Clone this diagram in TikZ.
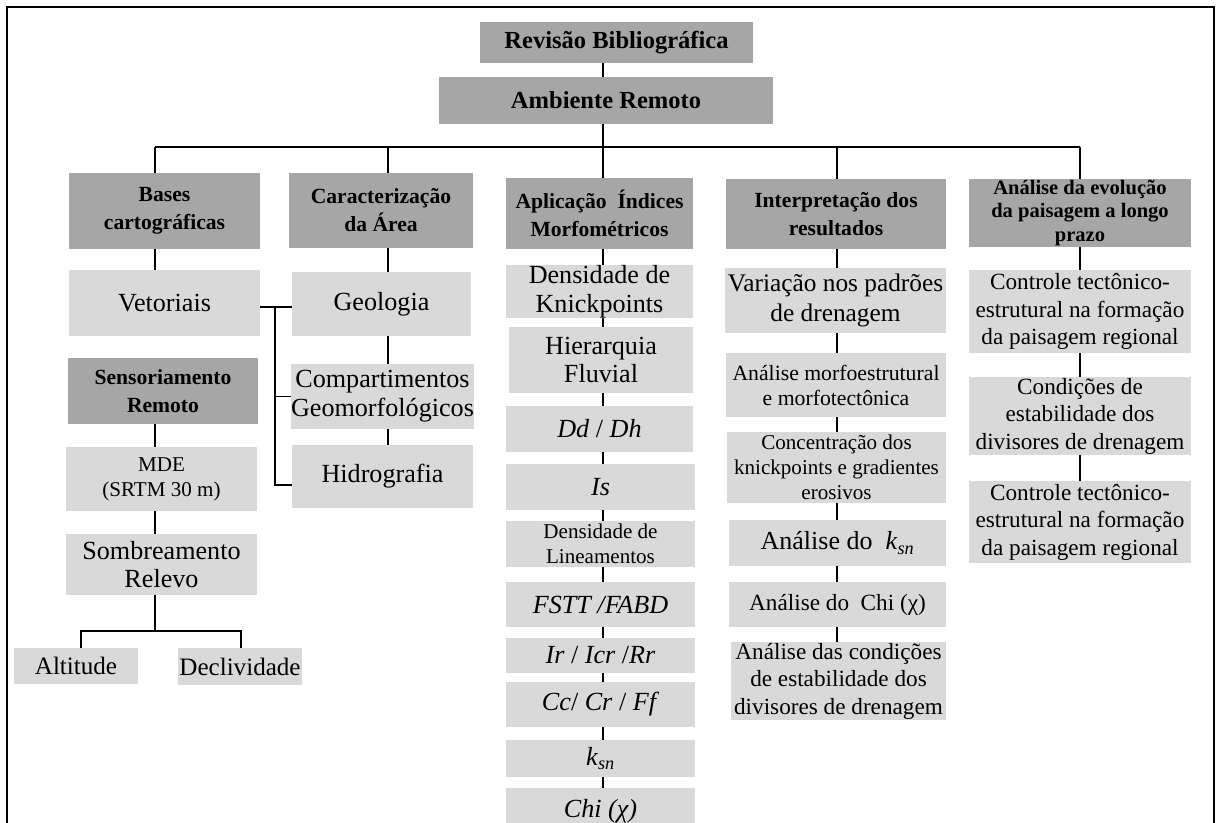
\documentclass[tikz,border=0pt]{standalone}
\usepackage{fontspec}
\setmainfont{Liberation Serif}
\definecolor{dk}{RGB}{166,166,166}
\definecolor{lt}{RGB}{217,217,217}
\newcommand\fTop{\fontsize{18.4}{21}\selectfont\bfseries}
\newcommand\fHead{\fontsize{16.2}{21}\selectfont\bfseries}
\newcommand\fHeadS{\fontsize{15.4}{17.6}\selectfont\bfseries}
\newcommand\fBig{\fontsize{19.6}{21.5}\selectfont}
\newcommand\fMed{\fontsize{15.8}{18.8}\selectfont}
\newcommand\fMid{\fontsize{17.4}{20.6}\selectfont}
\newcommand\fVar{\fontsize{19}{22.5}\selectfont}
\newcommand\fAlt{\fontsize{18.8}{21}\selectfont}
\newcommand\ksn{\textit{k}\textsubscript{\textit{sn}}}
% box: name, style, x1, y1, x2, y2, text  (pixel coordinates)
\newcommand\bx[7]{\node[#2, minimum width={(#5-#3)*0.75pt}, minimum height={(#6-#4)*0.75pt}] (#1) at ({(#3+#5)/2},{(#4+#6)/2}) {#7};}
\begin{document}
\begin{tikzpicture}[x=0.75pt,y=-0.75pt,
  box/.style={inner sep=0pt, align=center, text=black},
  dbox/.style={box, fill=dk},
  lbox/.style={box, fill=lt},
  conn/.style={line width=1.4pt, black},
  frame/.style={line width=2.2pt, black}]
\useasboundingbox (0,0) rectangle (1219,823);
\clip (0,0) rectangle (1219,823);
\fill[white] (0,0) rectangle (1219,823);

% top
\bx{rev}{dbox, font=\fTop}{480}{22}{753}{63}{Revisão Bibliográfica}
\bx{amb}{dbox, font=\fTop}{439}{77}{773}{124}{Ambiente Remoto}

% headers
\bx{bas}{dbox, font=\fHead}{69}{173}{260}{249}{Bases\\cartográficas}
\bx{car}{dbox, font=\fHead}{289}{173}{473}{248}{Caracterização\\da Área}
\bx{apl}{dbox, font=\fHead}{506}{178}{693}{249}{Aplicação\ \ Índices\\Morfométricos}
\bx{int}{dbox, font=\fHead}{726}{179}{946}{249}{Interpretação dos\\resultados}
\bx{evo}{dbox, font=\fHeadS}{969}{179}{1191}{247}{Análise da evolução\\da paisagem a longo\\prazo}

% column 1
\bx{vet}{lbox, font=\fBig}{69}{270}{260}{336}{Vetoriais}
\bx{sen}{dbox, font=\fHead}{68}{358}{258}{424}{Sensoriamento\\Remoto}
\bx{mde}{lbox, font=\fMed}{66}{447}{257}{511}{MDE\\(SRTM 30 m)}
\bx{som}{lbox, font=\fBig}{66}{534}{257}{595}{Sombreamento\\Relevo}
\bx{alt}{lbox, font=\fAlt}{14}{648}{138}{684}{Altitude}
\bx{dec}{lbox, font=\fAlt}{178}{648}{302}{685}{Declividade}

% column 2
\bx{geo}{lbox, font=\fBig}{292}{272}{471}{336}{Geologia}
\bx{com}{lbox, font=\fBig}{292}{364}{473}{429}{Compartimentos\\Geomorfológicos}
\bx{hid}{lbox, font=\fBig}{292}{445}{473}{508}{Hidrografia}

% column 3
\bx{dkn}{lbox, font=\fBig}{506}{266}{693}{317}{Densidade de\\Knickpoints}
\bx{hie}{lbox, font=\fBig}{509}{327}{693}{393}{Hierarquia\\Fluvial}
\bx{ddh}{lbox, font=\fBig}{506}{406}{693}{452}{\textit{Dd} / \textit{Dh}}
\bx{is}{lbox, font=\fBig}{506}{464}{695}{510}{\textit{Is}}
\bx{dli}{lbox, font=\fMed}{506}{521}{695}{567}{Densidade de\\Lineamentos}
\bx{fst}{lbox, font=\fBig}{506}{582}{695}{627}{\textit{FSTT /FABD}}
\bx{irr}{lbox, font=\fBig}{506}{638}{695}{673}{\textit{Ir} / \textit{Icr} /\textit{Rr}}
\bx{ccr}{lbox, font=\fBig}{506}{682}{695}{727}{\textit{Cc}/ \textit{Cr} / \textit{Ff}}
\bx{ks}{lbox, font=\fBig}{506}{740}{695}{777}{\ksn}
\bx{chi}{lbox, font=\fBig}{506}{788}{695}{834}{\textit{Chi (χ)}}

% column 4
\bx{var}{lbox, font=\fVar}{725}{268}{946}{333}{Variação nos padrões\\de drenagem}
\bx{amo}{lbox, font=\fontsize{16.3}{18.8}\selectfont}{726}{353}{946}{417}{Análise morfoestrutural\\e morfotectônica}
\bx{con}{lbox, font=\fMed}{727}{432}{946}{503}{Concentração dos\\knickpoints e gradientes\\erosivos}
\bx{aks}{lbox, font=\fontsize{19.5}{22}\selectfont}{729}{520}{946}{566}{Análise do\ \ \ksn}
\bx{ach}{lbox, font=\fMid}{729}{582}{946}{627}{Análise do\ \ Chi (χ)}
\bx{acd}{lbox, font=\fMid}{731}{642}{946}{720}{Análise das condições\\de estabilidade dos\\divisores de drenagem}

% column 5
\bx{ct1}{lbox, font=\fMid}{969}{270}{1191}{353}{Controle tectônico-\\estrutural na formação\\da paisagem regional}
\bx{cnd}{lbox, font=\fMid}{969}{377}{1191}{455}{Condições de\\estabilidade dos\\divisores de drenagem}
\bx{ct2}{lbox, font=\fMid}{969}{481}{1191}{563}{Controle tectônico-\\estrutural na formação\\da paisagem regional}

% bus coordinates
\coordinate (x1) at (155,147);
\coordinate (x2) at (388,147);
\coordinate (x3) at (603,147);
\coordinate (x4) at (837,147);
\coordinate (x5) at (1080,147);
\coordinate (sj) at (155,631);
\coordinate (aj) at (81,631);
\coordinate (dj) at (241,631);
\coordinate (vj) at (275,307);
\coordinate (hj) at (275,485);

% connectors top
\draw[conn] (rev.south -| x3) -- (amb.north -| x3);
\draw[conn] (amb.south -| x3) -- (x3);
\draw[conn] (x1) -- (x5);
\draw[conn] (x1) -- (bas.north -| x1);
\draw[conn] (x2) -- (car.north -| x2);
\draw[conn] (x3) -- (apl.north -| x3);
\draw[conn] (x4) -- (int.north -| x4);
\draw[conn] (x5) -- (evo.north -| x5);

% column 1
\draw[conn] (bas.south -| x1) -- (vet.north -| x1);
\draw[conn] (sen.south -| x1) -- (mde.north -| x1);
\draw[conn] (mde.south -| x1) -- (som.north -| x1);
\draw[conn] (som.south -| sj) -- (sj);
\draw[conn] (alt.north -| aj) -- (aj) -- (dj) -- (dec.north -| dj);

% column 2
\draw[conn] (car.south -| x2) -- (geo.north -| x2);
\draw[conn] (geo.south -| x2) -- (com.north -| x2);
\draw[conn] (com.south -| x2) -- (hid.north -| x2);
\draw[conn] (vet.east |- vj) -- (geo.west |- vj);
\draw[conn] (vj) -- (hj) -- (hid.west |- hj);
\draw[conn] (vj |- com.west) -- (com.west);

% column 3
\foreach \a/\b in {apl/dkn, dkn/hie, hie/ddh, ddh/is, is/dli, dli/fst, fst/irr, irr/ccr, ccr/ks, ks/chi}
  \draw[conn] (\a.south -| x3) -- (\b.north -| x3);

% column 4
\foreach \a/\b in {int/var, var/amo, amo/con, con/aks, aks/ach, ach/acd}
  \draw[conn] (\a.south -| x4) -- (\b.north -| x4);

% column 5
\foreach \a/\b in {evo/ct1, ct1/cnd, cnd/ct2}
  \draw[conn] (\a.south -| x5) -- (\b.north -| x5);

% frame
\draw[frame] (7,830) -- (7,7) -- (1214,7) -- (1214,830);
\end{tikzpicture}
\end{document}
